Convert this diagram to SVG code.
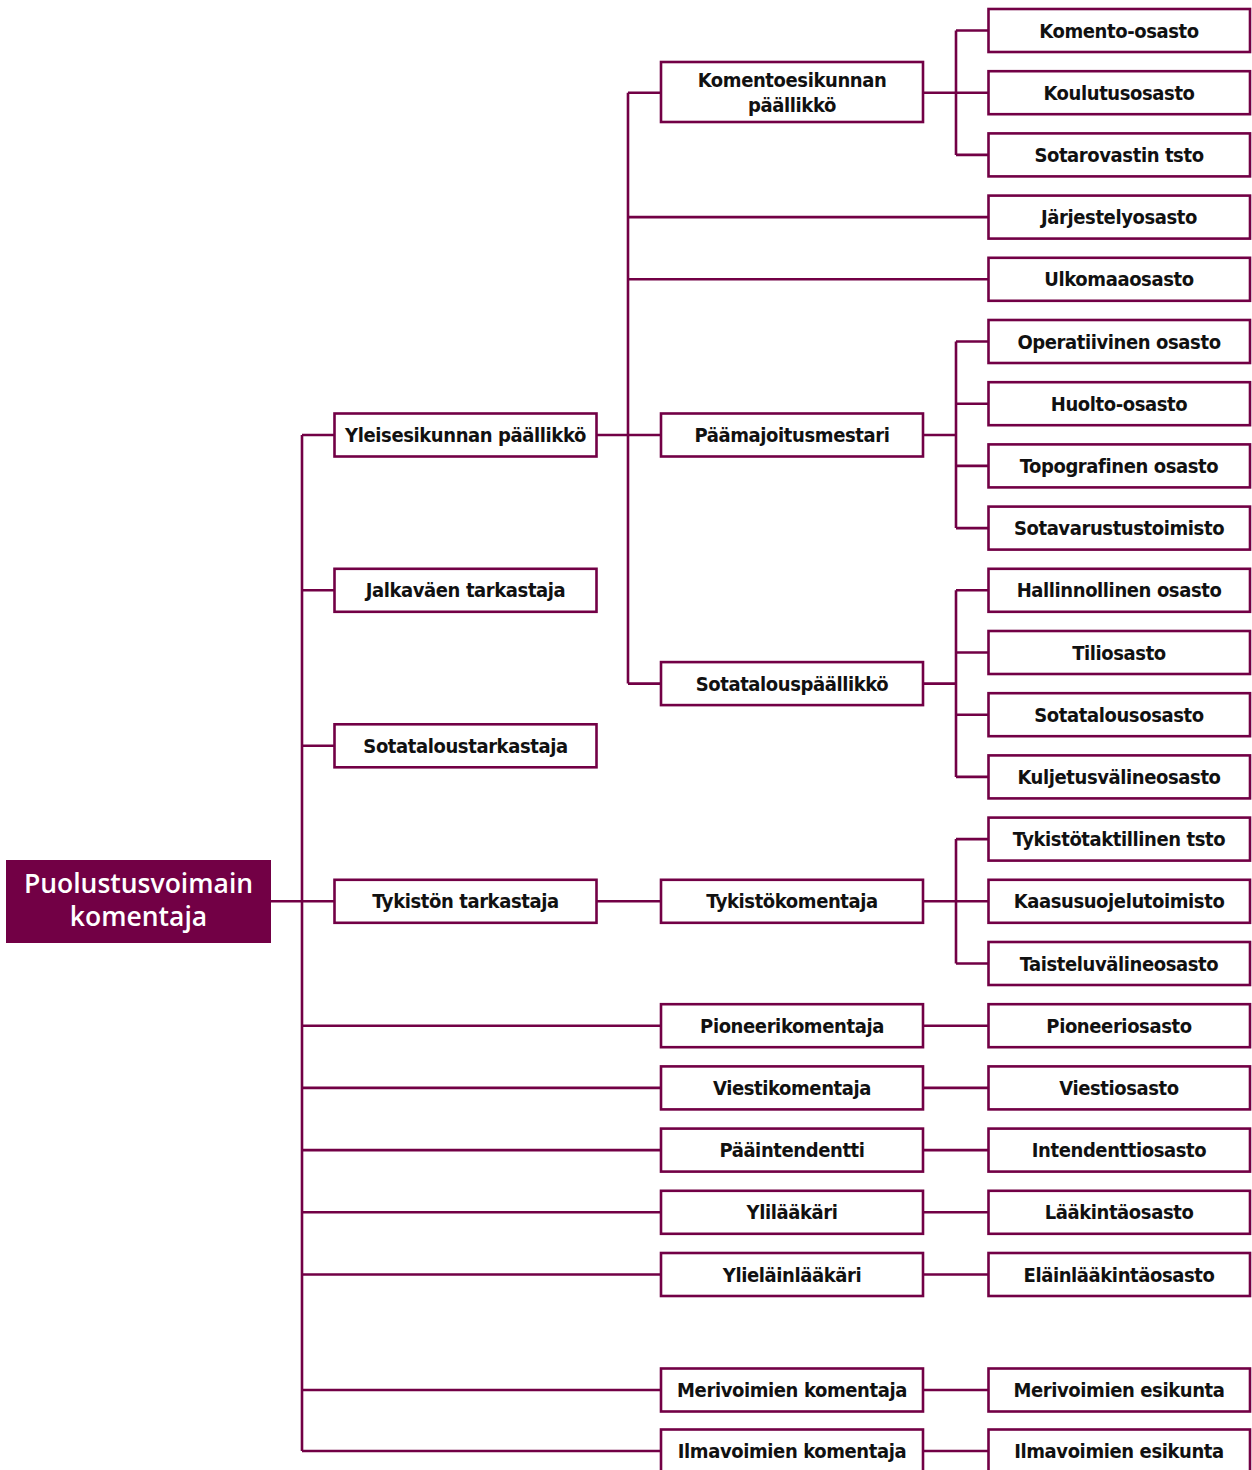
<svg xmlns="http://www.w3.org/2000/svg" width="1252" height="1470" viewBox="0 0 1252 1470">
<style>
.box{fill:#fff;stroke:#720045;stroke-width:2.6}
.root{fill:#720045}
.ln{fill:none;stroke:#720045;stroke-width:2.6}
.t{font-family:"Liberation Sans Narrow","DejaVu Sans Condensed","DejaVu Sans",sans-serif;font-stretch:condensed;font-weight:bold;font-size:20px;letter-spacing:-0.4px;fill:#111;text-anchor:middle}
.rt{font-family:"Open Sans","Liberation Sans",sans-serif;font-weight:600;font-size:26.5px;fill:#fff;text-anchor:middle}
</style>
<rect width="1252" height="1470" fill="#fff"/>
<g id="connectors">
<path class="ln" d="M271 901.3H334.5"/>
<path class="ln" d="M302 435V1451"/>
<path class="ln" d="M302 435H334.5M302 590.3H334.5M302 745.8H334.5"/>
<path class="ln" d="M302 1025.7H661M302 1087.9H661M302 1150.1H661M302 1212.3H661M302 1274.5H661M302 1390H661M302 1451H661"/>
<path class="ln" d="M596.5 435H661"/>
<path class="ln" d="M596.5 901.3H661"/>
<path class="ln" d="M628 92.7V683.6M628 92.7H661M628 683.6H661M628 217.1H988.5M628 279.3H988.5"/>
<path class="ln" d="M923 92.7H956M956 30.5V154.9M956 30.5H988.5M956 92.7H988.5M956 154.9H988.5"/>
<path class="ln" d="M923 435H956M956 341.5V528.1M956 341.5H988.5M956 403.7H988.5M956 465.9H988.5M956 528.1H988.5"/>
<path class="ln" d="M923 683.6H956M956 590.3V776.9M956 590.3H988.5M956 652.5H988.5M956 714.7H988.5M956 776.9H988.5"/>
<path class="ln" d="M923 901.3H956M956 839.1V963.5M956 839.1H988.5M956 901.3H988.5M956 963.5H988.5"/>
<path class="ln" d="M923 1025.7H988.5M923 1087.9H988.5M923 1150.1H988.5M923 1212.3H988.5M923 1274.5H988.5M923 1390H988.5M923 1451H988.5"/>
</g>
<g id="root"><rect class="root" x="6" y="860" width="265" height="83"/><text class="rt" x="138.5" y="893">Puolustusvoimain</text><text class="rt" x="138.5" y="926">komentaja</text></g>
<g id="n-yleis"><rect class="box" x="334.5" y="413.5" width="262" height="43"/><text class="t" x="465.5" y="442">Yleisesikunnan päällikkö</text></g>
<g id="n-jalka"><rect class="box" x="334.5" y="568.8" width="262" height="43"/><text class="t" x="465.5" y="597.3">Jalkaväen tarkastaja</text></g>
<g id="n-sotatar"><rect class="box" x="334.5" y="724.3" width="262" height="43"/><text class="t" x="465.5" y="752.8">Sotataloustarkastaja</text></g>
<g id="n-tykt"><rect class="box" x="334.5" y="879.8" width="262" height="43"/><text class="t" x="465.5" y="908.3">Tykistön tarkastaja</text></g>
<g id="n-komesik"><rect class="box" x="661" y="62" width="262" height="60"/><text class="t" x="792" y="87">Komentoesikunnan</text><text class="t" x="792" y="112">päällikkö</text></g>
<g id="n-paamaj"><rect class="box" x="661" y="413.5" width="262" height="43"/><text class="t" x="792" y="442">Päämajoitusmestari</text></g>
<g id="n-sotpaal"><rect class="box" x="661" y="662.1" width="262" height="43"/><text class="t" x="792" y="690.6">Sotatalouspäällikkö</text></g>
<g id="n-tykk"><rect class="box" x="661" y="879.8" width="262" height="43"/><text class="t" x="792" y="908.3">Tykistökomentaja</text></g>
<g id="n-pion"><rect class="box" x="661" y="1004.2" width="262" height="43"/><text class="t" x="792" y="1032.7">Pioneerikomentaja</text></g>
<g id="n-viesti"><rect class="box" x="661" y="1066.4" width="262" height="43"/><text class="t" x="792" y="1094.9">Viestikomentaja</text></g>
<g id="n-paaint"><rect class="box" x="661" y="1128.6" width="262" height="43"/><text class="t" x="792" y="1157.1">Pääintendentti</text></g>
<g id="n-ylil"><rect class="box" x="661" y="1190.8" width="262" height="43"/><text class="t" x="792" y="1219.3">Ylilääkäri</text></g>
<g id="n-ylie"><rect class="box" x="661" y="1253" width="262" height="43"/><text class="t" x="792" y="1281.5">Ylieläinlääkäri</text></g>
<g id="n-merik"><rect class="box" x="661" y="1368.5" width="262" height="43"/><text class="t" x="792" y="1397">Merivoimien komentaja</text></g>
<g id="n-ilmak"><rect class="box" x="661" y="1429.5" width="262" height="43"/><text class="t" x="792" y="1458">Ilmavoimien komentaja</text></g>
<g id="n-c0"><rect class="box" x="988.5" y="9" width="261.5" height="43"/><text class="t" x="1119" y="37.5">Komento-osasto</text></g>
<g id="n-c1"><rect class="box" x="988.5" y="71.2" width="261.5" height="43"/><text class="t" x="1119" y="99.7">Koulutusosasto</text></g>
<g id="n-c2"><rect class="box" x="988.5" y="133.4" width="261.5" height="43"/><text class="t" x="1119" y="161.9">Sotarovastin tsto</text></g>
<g id="n-c3"><rect class="box" x="988.5" y="195.6" width="261.5" height="43"/><text class="t" x="1119" y="224.1">Järjestelyosasto</text></g>
<g id="n-c4"><rect class="box" x="988.5" y="257.8" width="261.5" height="43"/><text class="t" x="1119" y="286.3">Ulkomaaosasto</text></g>
<g id="n-c5"><rect class="box" x="988.5" y="320" width="261.5" height="43"/><text class="t" x="1119" y="348.5">Operatiivinen osasto</text></g>
<g id="n-c6"><rect class="box" x="988.5" y="382.2" width="261.5" height="43"/><text class="t" x="1119" y="410.7">Huolto-osasto</text></g>
<g id="n-c7"><rect class="box" x="988.5" y="444.4" width="261.5" height="43"/><text class="t" x="1119" y="472.9">Topografinen osasto</text></g>
<g id="n-c8"><rect class="box" x="988.5" y="506.6" width="261.5" height="43"/><text class="t" x="1119" y="535.1">Sotavarustustoimisto</text></g>
<g id="n-c9"><rect class="box" x="988.5" y="568.8" width="261.5" height="43"/><text class="t" x="1119" y="597.3">Hallinnollinen osasto</text></g>
<g id="n-c10"><rect class="box" x="988.5" y="631" width="261.5" height="43"/><text class="t" x="1119" y="659.5">Tiliosasto</text></g>
<g id="n-c11"><rect class="box" x="988.5" y="693.2" width="261.5" height="43"/><text class="t" x="1119" y="721.7">Sotatalousosasto</text></g>
<g id="n-c12"><rect class="box" x="988.5" y="755.4" width="261.5" height="43"/><text class="t" x="1119" y="783.9">Kuljetusvälineosasto</text></g>
<g id="n-c13"><rect class="box" x="988.5" y="817.6" width="261.5" height="43"/><text class="t" x="1119" y="846.1">Tykistötaktillinen tsto</text></g>
<g id="n-c14"><rect class="box" x="988.5" y="879.8" width="261.5" height="43"/><text class="t" x="1119" y="908.3">Kaasusuojelutoimisto</text></g>
<g id="n-c15"><rect class="box" x="988.5" y="942" width="261.5" height="43"/><text class="t" x="1119" y="970.5">Taisteluvälineosasto</text></g>
<g id="n-c16"><rect class="box" x="988.5" y="1004.2" width="261.5" height="43"/><text class="t" x="1119" y="1032.7">Pioneeriosasto</text></g>
<g id="n-c17"><rect class="box" x="988.5" y="1066.4" width="261.5" height="43"/><text class="t" x="1119" y="1094.9">Viestiosasto</text></g>
<g id="n-c18"><rect class="box" x="988.5" y="1128.6" width="261.5" height="43"/><text class="t" x="1119" y="1157.1">Intendenttiosasto</text></g>
<g id="n-c19"><rect class="box" x="988.5" y="1190.8" width="261.5" height="43"/><text class="t" x="1119" y="1219.3">Lääkintäosasto</text></g>
<g id="n-c20"><rect class="box" x="988.5" y="1253" width="261.5" height="43"/><text class="t" x="1119" y="1281.5">Eläinlääkintäosasto</text></g>
<g id="n-meries"><rect class="box" x="988.5" y="1368.5" width="261.5" height="43"/><text class="t" x="1119" y="1397">Merivoimien esikunta</text></g>
<g id="n-ilmaes"><rect class="box" x="988.5" y="1429.5" width="261.5" height="43"/><text class="t" x="1119" y="1458">Ilmavoimien esikunta</text></g>
</svg>
